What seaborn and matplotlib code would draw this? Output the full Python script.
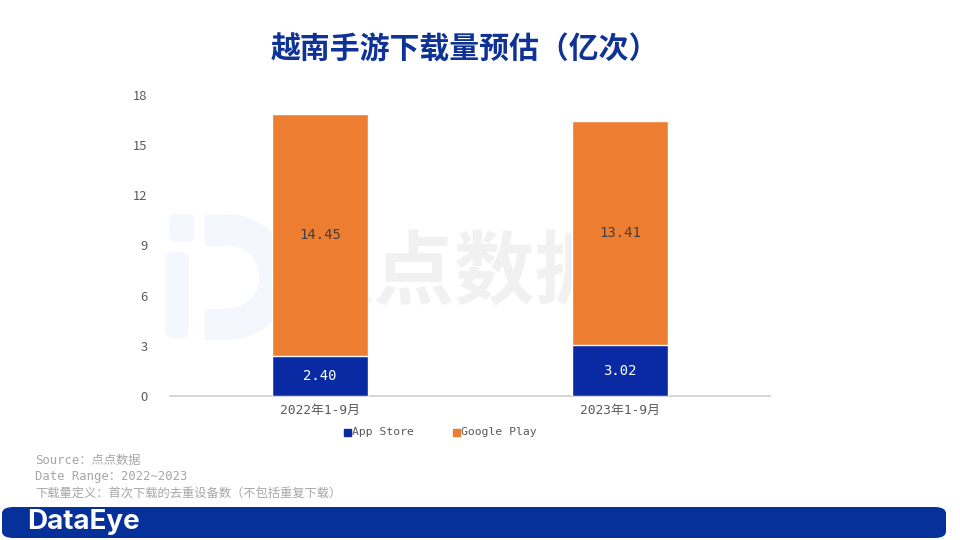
import matplotlib
matplotlib.use("Agg")
import matplotlib.pyplot as plt
import seaborn as sns
import pandas as pd
from matplotlib.patches import FancyBboxPatch, Wedge, Rectangle

# data
periods = ["2022年1-9月", "2023年1-9月"]
app_store = [2.40, 3.02]
google_play = [14.45, 13.41]
yticks = [0, 3, 6, 9, 12, 15, 18]

BLUE = "#0a2aa3"
ORANGE = "#ed7d31"
MONO = ["DejaVu Sans Mono", "Noto Sans CJK SC"]
LOGO = "#f4f7fd"

sns.set_theme(style="white")
plt.rcParams['font.family'] = ['Noto Sans CJK SC', 'DejaVu Sans']

df = pd.DataFrame({"period": periods, "App Store": app_store, "Google Play": google_play})
df["total"] = df["App Store"] + df["Google Play"]

fig = plt.figure(figsize=(9.6, 5.4), dpi=100)

# faint watermark behind the chart
bg = fig.add_axes([0, 0, 1, 1], zorder=-1)
bg.set_xlim(0, 960)
bg.set_ylim(540, 0)
bg.axis("off")
bg.add_patch(Wedge((228, 277), 62, -90, 90, width=30, color=LOGO))
bg.add_patch(Rectangle((205, 215), 23, 30, color=LOGO))
bg.add_patch(Rectangle((205, 309), 23, 30, color=LOGO))
bg.add_patch(FancyBboxPatch((166, 252), 22, 86, boxstyle="round,pad=0,rounding_size=8",
                            color=LOGO))
bg.add_patch(FancyBboxPatch((170, 215), 24, 26, boxstyle="round,pad=0,rounding_size=5",
                            color=LOGO))
bg.text(455, 275, "点点数据", fontsize=58, fontweight="bold", color="#f1f1f1",
        ha="center", va="center")

ax = fig.add_axes([0.177, 0.2667, 0.625, 0.5574])
sns.barplot(data=df, x="period", y="total", color=ORANGE, width=0.32, ax=ax,
            saturation=1, zorder=2)
sns.barplot(data=df, x="period", y="App Store", color=BLUE, width=0.32, ax=ax,
            saturation=1, zorder=3)

for i in range(len(periods)):
    ax.text(i, app_store[i] / 2, f"{app_store[i]:.2f}", ha="center", va="center",
            color="white", fontsize=10, family=MONO, zorder=4)
    ax.text(i, app_store[i] + google_play[i] / 2, f"{google_play[i]:.2f}", ha="center",
            va="center", color="#404040", fontsize=10, family=MONO, zorder=4)

ax.set_facecolor("none")
ax.set_xlim(-0.5, 1.5)
ax.set_ylim(0, 18)
ax.set_yticks(yticks)
ax.set_xlabel("")
ax.set_ylabel("")
for s in ["top", "right", "left"]:
    ax.spines[s].set_visible(False)
ax.spines["bottom"].set_color("#d0d0d0")
ax.tick_params(axis="both", length=0, labelsize=9.3, colors="#595959")
ax.tick_params(axis="y", pad=16)
ax.tick_params(axis="x", pad=6)
for lab in ax.get_xticklabels():
    lab.set_family(MONO)

# legend
fig.patches.append(Rectangle((344 / 960, 1 - 436 / 540), 7 / 960, 7 / 540,
                             color=BLUE, transform=fig.transFigure))
fig.text(352 / 960, 1 - 432 / 540, "App Store", fontsize=8.2, color="#595959",
         va="center", family=MONO)
fig.patches.append(Rectangle((453 / 960, 1 - 436 / 540), 7 / 960, 7 / 540,
                             color=ORANGE, transform=fig.transFigure))
fig.text(461 / 960, 1 - 432 / 540, "Google Play", fontsize=8.2, color="#595959",
         va="center", family=MONO)

# title
fig.text(0.484, 1 - 50 / 540, "越南手游下载量预估（亿次）", fontsize=21.5, fontweight="bold",
         color="#0f3296", ha="center", va="center")

# notes
notes = ["Source：点点数据", "Date Range：2022~2023", "下载量定义：首次下载的去重设备数（不包括重复下载）"]
for k, t in enumerate(notes):
    fig.text(35 / 960, 1 - (460 + 16.5 * k) / 540, t, fontsize=8.8, color="#a6a6a6",
             va="center", family=MONO)

# footer band
band = FancyBboxPatch((2 / 960, 2 / 540), 944 / 960, 31 / 540,
                      boxstyle="round,pad=0,rounding_size=0.012", transform=fig.transFigure,
                      facecolor="#06309a", edgecolor="none")
fig.patches.append(band)
fig.text(27 / 960, 18 / 540, "DataEye", fontsize=20, fontweight="bold", color="white",
         va="center", family=["Inter", "DejaVu Sans"])

fig.savefig("out.png", dpi=100)
